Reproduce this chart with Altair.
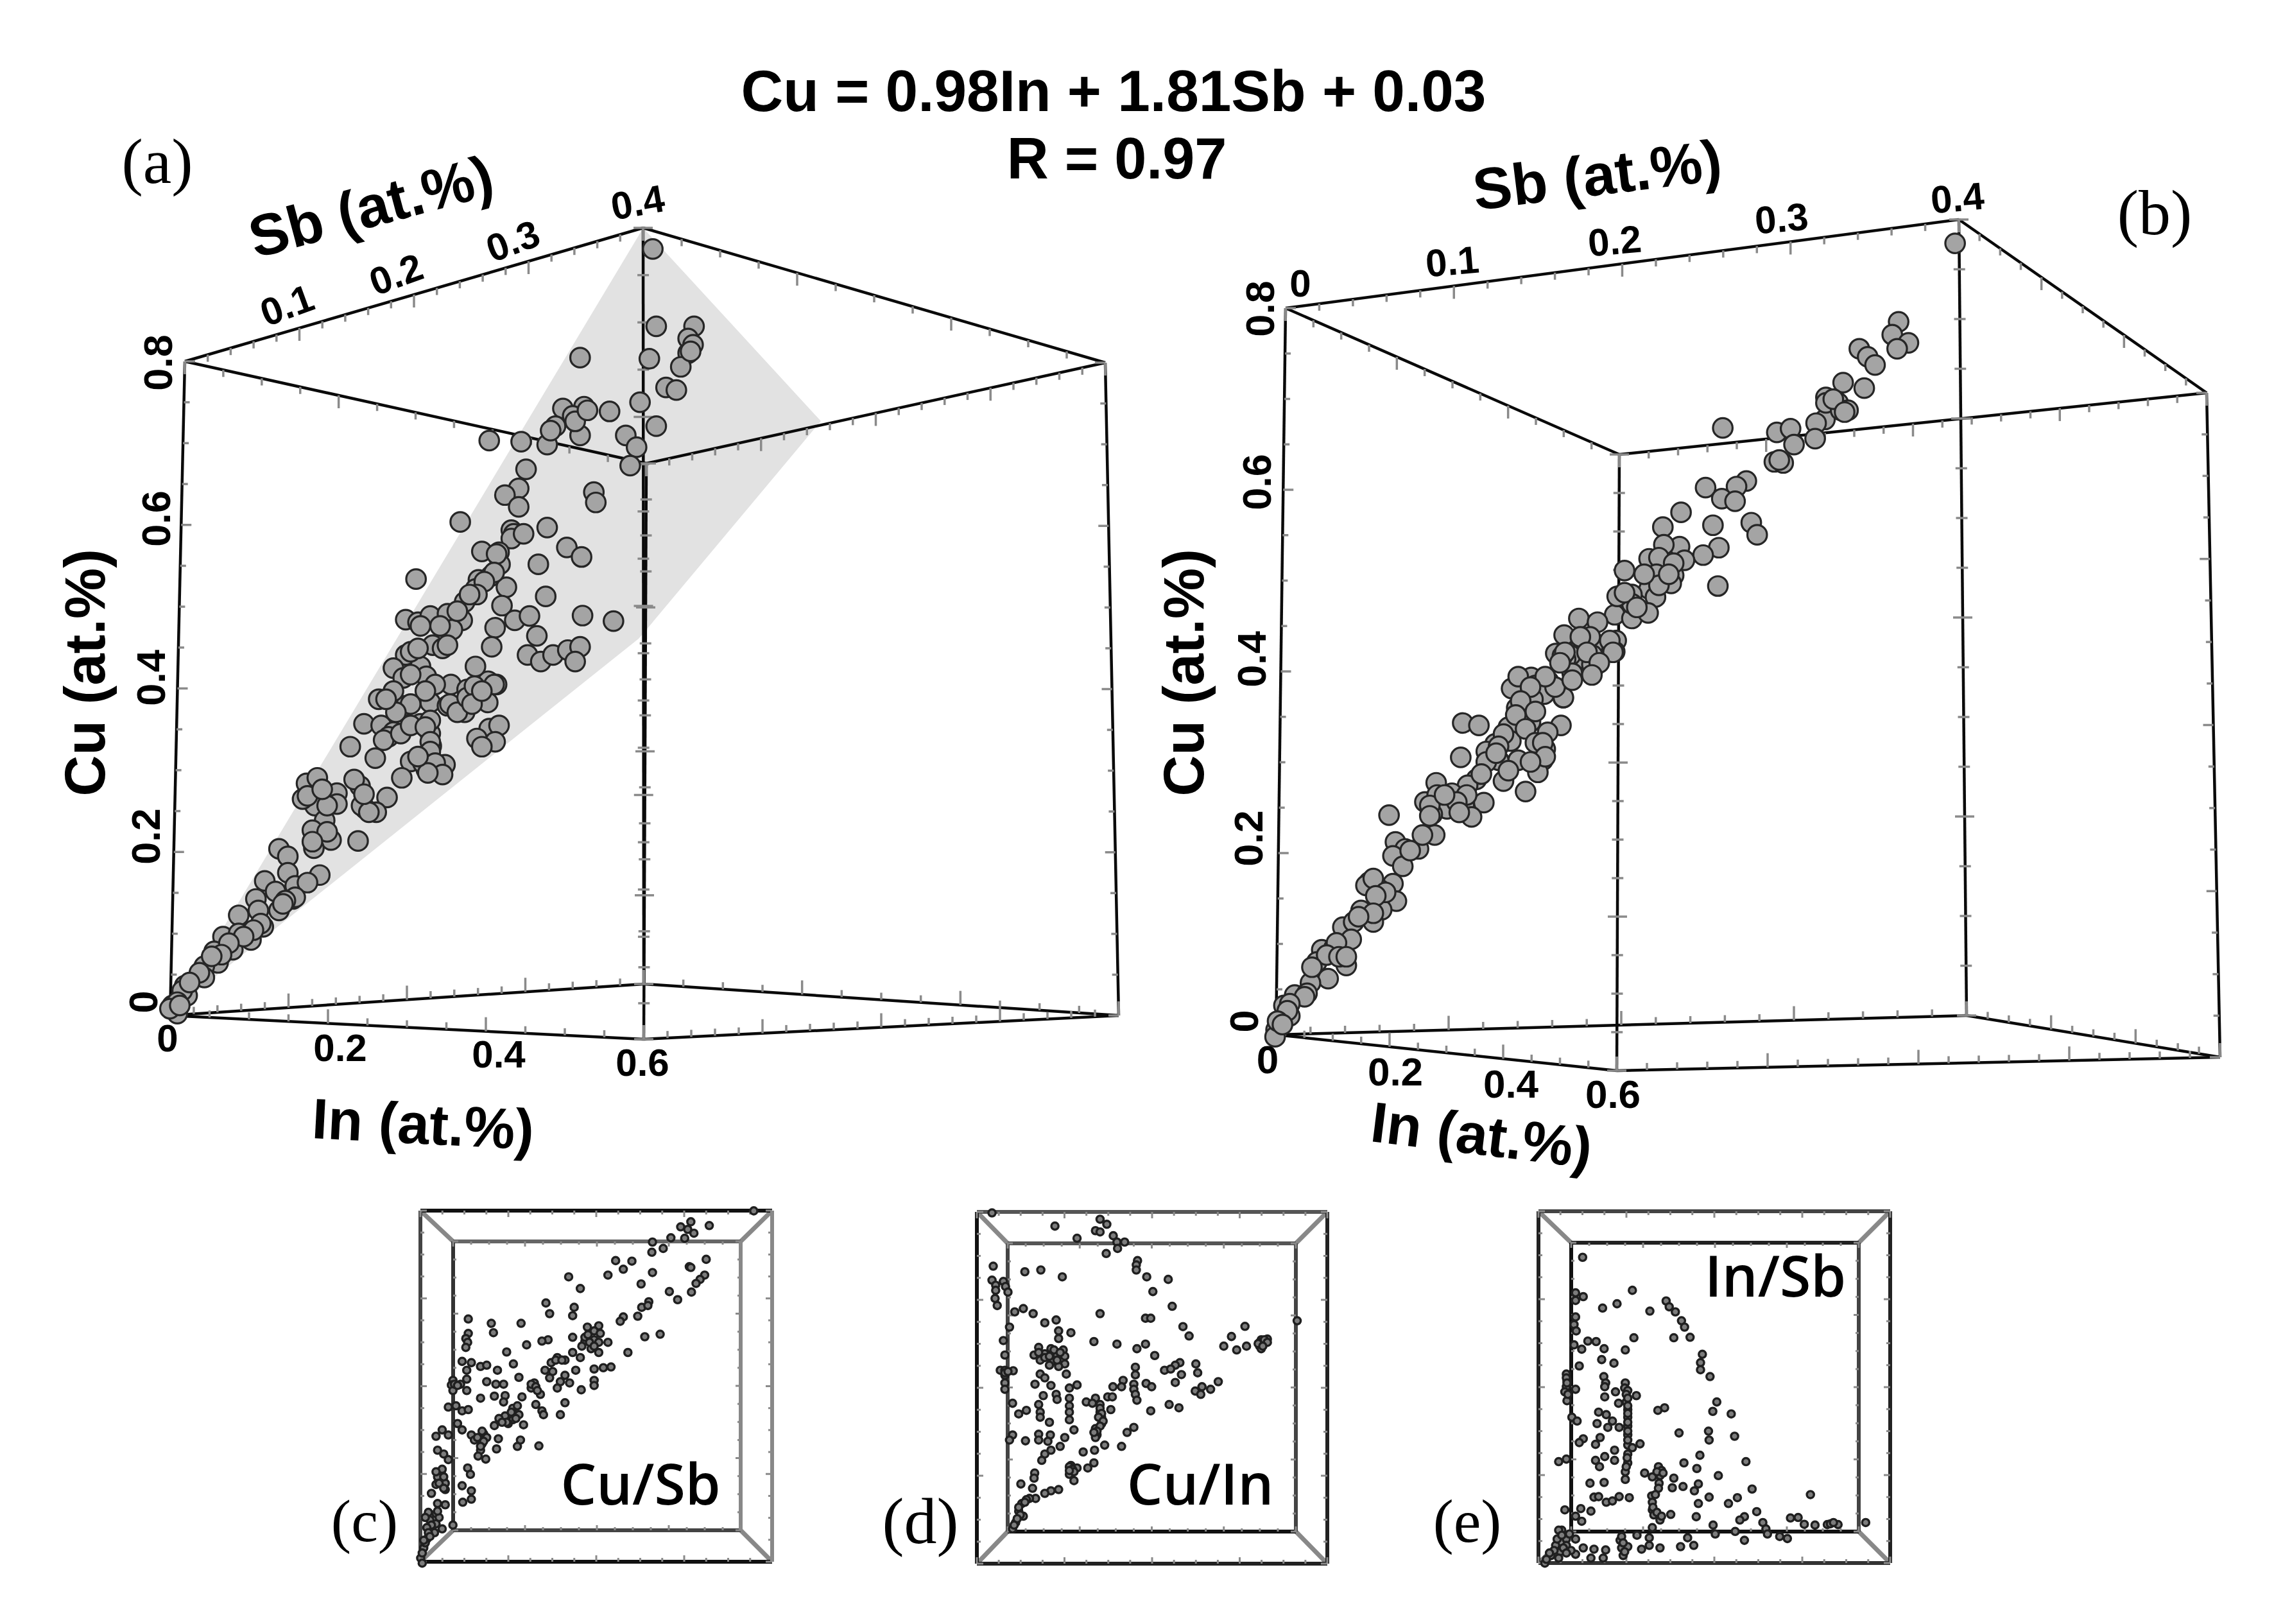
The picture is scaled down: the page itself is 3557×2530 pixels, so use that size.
import altair as alt
import pandas as pd

# ---- values, as (x, y) on the sheet, grouped by the crop they were read from
A1 = [(1133,362),(1140,572),(1217,572),(1205,605),(1215,622),(1205,645),(1190,682),(1126,660),(985,657),(1160,738),(1181,745),(1107,778),(950,795),(993,790),(1045,803),(970,815),(935,843),(1140,843),(985,868),(1078,868),(1100,900),(1087,950),(800,882),(865,885),(918,893),(875,960),(860,1012),(832,1030),(1013,1022),(1017,1050),(860,1062),(741,1103),(845,1125),(850,1135),(918,1118),(845,1148),(958,1172),(988,1198),(785,1183),(820,1185),(822,1218),(900,1218),(651,1258),(778,1260),(803,1250),(772,1285),(835,1280),(750,1320),(826,1330),(915,1305),(630,1368),(655,1375),(680,1358),(715,1352),(745,1370),(725,1395),(812,1390),(852,1370),(882,1358),(990,1357),(1053,1372),(897,1412),
      (815,1190),(810,1240),(790,1265),(775,1300),(760,1300),(735,1345),(700,1385),(660,1385),(870,1135),(975,830),(1000,800),(925,855),(1210,640)]
A2 = [(630,40),(685,10),(605,80),(660,75),(625,110),(672,105),(722,130),(755,145),(798,120),(815,130),(680,185),(715,195),(750,215),(797,185),(772,75),(575,175),(600,165),(630,195),(545,250),(580,255),(605,275),(660,250),(517,320),(568,355),(680,280),(682,318),(680,350),(640,365),(710,375),(672,390),(622,415),(800,265),(820,255),(775,295),(812,305),(785,320),(428,432),(450,415),(490,462),(537,440),(445,500),(420,480),(490,495),(592,475),(570,520),(548,510),(465,545),(440,575),(478,605),(443,630),(533,608),(372,632),(390,655),(390,705),(455,712),(343,730),(365,762),(405,745),(430,735),(325,785),(372,820),(400,785),(290,835),(330,820),(340,870),(258,900),(290,890),(315,910),(278,940),(240,945),(248,980),(220,990),(220,1025),(180,1050),(185,1080),(160,1125),(165,1135),(155,1110),(878,40),(905,60),(930,40),(960,25),(985,15),(975,60),(805,15),
      (640,30),(655,20),(705,20),(715,10),(640,100),(690,130),(670,150),(640,190),(610,215),(595,290),(585,300),(620,280),(640,255),(605,150),(590,175),(680,240),(670,260),(680,305),(680,335),(665,370),(690,370),(705,405),(675,400),(655,350),(720,190),(735,215),(755,170),(770,135),(765,190),(810,130),(785,150),(540,500),(555,520),(470,500),(430,470),(460,450),(525,420),(545,465),(470,580),(440,610),(405,780),(385,790),(380,800),(335,860),(320,880),(300,900),(270,920),(255,955),(235,960),(210,1010),(175,1065),(190,1040),(165,1100),(150,1120),(170,1110)]
B1 = [(1563,312),(1448,525),(1435,560),(1468,582),(1445,598),(1368,598),(1385,620),(1400,642),(1335,690),(1378,705),(1300,730),(1325,745),(1345,765),(1310,755),(1298,790),(1280,800),(1278,842),(1090,813),(1200,825),(1228,815),(1235,858),(1195,905),(1213,908),(1138,957),(1118,972),(1055,975),(1088,1005),(1115,1012),(1005,1042),(1148,1070),(1160,1103),(1070,1077),(968,1082),(1002,1135),(970,1130),(1082,1138),(1050,1158),(940,1168),(960,1165),(1012,1172),(890,1200),(990,1213),(1080,1242),(955,1210),(940,1250),(985,1235),(905,1265),(953,1272),(895,1290),(870,1320),(905,1330),(938,1315),(797,1330),(835,1340),(767,1375),(873,1390),(870,1420),(825,1410),(800,1410),(765,1430),(750,1425),(825,1455),(785,1480),(675,1490),(735,1500),(700,1510),(725,1535),(765,1545),(825,1470),
      (1300,745),(1330,765),(1315,735),(1338,770),(1205,900),(960,1240),(930,1210),(905,1290),(875,1270),(890,1260),(915,1300),(990,1180),(980,1210),(795,1440),(820,1380),(800,1380),(780,1430),(860,1390),(770,1440),(825,1430),(700,1490),(730,1520),(690,1520),(660,1520)]
B2 = [(855,40),(915,65),(958,30),(875,90),(765,100),(825,115),(800,125),(818,150),(857,160),(795,165),(762,190),(790,230),(852,240),(652,233),(685,240),(745,245),(825,260),(718,293),(750,285),(700,315),(648,332),(820,308),(765,340),(725,340),(815,340),(805,375),(680,395),(735,400),(780,430),(598,405),(662,412),(630,435),(575,460),(620,480),(695,462),(655,470),(590,495),(670,503),(502,498),(595,555),(515,575),(535,595),(510,615),(562,595),(530,645),(462,690),(510,695),(483,712),(455,700),(517,745),(445,772),(487,770),(470,805),(408,820),(430,805),(425,855),(365,885),(390,880),(355,920),(415,930),(378,968),(342,980),(310,1015),(335,1010),(288,1045),(300,1075),(272,1115),(270,1135),
      (860,30),(905,30),(930,60),(915,95),(850,60),(840,130),(875,110),(820,100),(790,130),(770,170),(800,200),(760,210),(780,250),(735,265),(725,300),(800,290),(815,290),(820,330),(790,345),(745,370),(700,345),(720,320),(690,380),(660,440),(640,460),(600,440),(585,470),(615,440),(585,500),(645,490),(570,555),(545,600),(470,680),(495,720),(475,730),(470,780),(440,790),(395,865),(375,900),(345,935),(400,905),(415,905),(330,1020),(300,1040),(295,1060),(275,1090),(285,1100)]
C1 = [(1410,92),(1205,135),(1265,150),(1172,155),(1195,165),(1215,180),(1140,198),(1185,200),(1080,215),(1115,240),(1078,255),(960,288),(1013,290),(985,322),(1255,283),(1200,312),(1205,315),(935,345),(1080,335),(807,352),(1250,345),(1235,362),(1222,378),(1043,380),(845,398),(1207,412),(1135,410),(1162,442),(733,455),(1068,450),(1045,472),(1065,465),(825,472),(745,497),(820,505),(1032,507),(985,510),(975,527),(480,518),(555,535),(652,535),(562,572),(868,550),(905,545),(890,565),(910,575),(1105,578),(1055,588),(480,575),(472,595),(478,610),(472,630),(820,590),(740,600),(720,605),(670,620),(860,605),(890,600),(935,610),(850,625),(880,635),(905,650),(605,648),(1000,650),(820,650),(795,680),(770,670),(750,690),(845,670),(460,685),(490,690),(520,705),(540,700),(575,720),(627,695),(475,720),(945,707),(920,710),(890,715),(830,720),(730,720),(755,725),(745,750),(795,740),(645,748),(475,755),(430,760),(425,778),(455,775),(540,765),(570,775),(595,775),(695,770),(810,770),(780,765),(890,760),(890,780),(770,790),(848,797),(430,800),(475,800),(685,790),(715,815),(520,830),(565,822),(600,820),(655,825),(595,845),(700,855),(625,870),(795,848),(415,865),(440,860),(460,880),(480,875),(720,880),(725,895),(780,895),(645,895),(600,900),(580,910),(625,915),(445,930),(565,938),(610,930),(660,935),(460,955),(395,955),(375,980),(415,975),(490,975),(530,970),(540,985),(578,990),(650,995),(500,995),(525,1010),(572,1030),(640,1020),(710,1018),(380,1035),(400,1050),(415,1072),(520,1035),(512,1058),(537,1070),(478,1105),(487,1130),(392,1120),(380,1140),(405,1165),(375,1170),(460,1175),(490,1195),(360,1205),(405,1190),(490,1228),(462,1240),(380,1245),(405,1250),(350,1280),(375,1285),(355,1310),(375,1325),(430,1330),(395,1345),(370,1360),(345,1385),(335,1420),(325,1460),(330,1480),
      (340,1300),(360,1330),(345,1340),(385,1300),(350,1360),(340,1400),(355,1375),(330,1440),(335,1390),(380,1275),(395,1110),(375,1120),(400,1140),(385,1165),(400,1185),(620,885),(640,860),(605,925),(590,925),(635,910),(685,775),(700,785),(705,800),(860,590),(875,610),(870,580),(905,610),(890,625),(765,680),(785,680),(435,775),(445,780),(510,985),(530,1000),(520,1020),(525,960)]
D1 = [(388,100),(740,125),(762,145),(593,152),(725,170),(740,175),(783,190),(665,200),(795,215),(820,215),(797,240),(760,260),(862,288),(858,305),(858,325),(392,310),(495,332),(547,325),(617,352),(892,352),(962,362),(388,365),(425,370),(400,385),(432,390),(440,412),(400,405),(398,437),(405,465),(912,410),(975,468),(490,477),(462,490),(522,497),(740,497),(888,515),(905,515),(597,522),(560,533),(1382,525),(1010,548),(1212,547),(445,550),(605,565),(645,572),(1030,585),(1168,587),(1285,597),(1265,600),(605,595),(425,603),(720,607),(795,617),(888,617),(860,635),(1143,625),(1217,625),(1185,640),(1260,625),(1275,610),(1265,635),(540,630),(580,635),(620,640),(525,660),(560,655),(600,660),(430,660),(918,662),(625,665),(545,680),(585,685),(625,695),(575,700),(605,705),(855,708),(1000,690),(1052,695),(985,700),(950,720),(970,715),(855,738),(1058,730),(415,720),(457,722),(430,740),(630,735),(545,735),(560,750),(1005,737),(1125,765),(815,760),(985,768),(430,770),(528,775),(580,780),(665,778),(640,790),(890,772),(908,785),(782,785),(810,785),(850,775),(850,795),(1072,785),(1100,795),(1050,802),(1068,815),(430,795),(555,820),(597,815),(600,835),(855,815),(860,838),(640,830),(725,830),(765,825),(780,825),(695,845),(715,850),(740,855),(455,850),(540,855),(965,855),(997,868),(500,878),(475,892),(640,860),(640,885),(545,885),(775,875),(905,880),(740,885),(745,905),(545,905),(640,915),(575,925),(745,930),(725,950),(850,945),(828,965),(655,955),(455,975),(540,972),(578,975),(730,975),(445,995),(497,998),(540,995),(570,1000),(625,985),(725,985),(755,1015),(810,1020),(610,1020),(580,1035),(722,1035),(685,1042),(560,1050),(550,1075),(720,1085),(700,1105),(645,1095),(665,1105),(640,1130),(655,1155),(527,1125),(525,1145),(482,1168),(520,1185),(605,1190),(580,1195),(560,1205),(530,1225),(510,1225),(485,1245),(475,1275),(490,1295),(465,1320),(455,1345),
      (740,870),(745,890),(735,905),(750,920),(740,940),(730,960),(720,965),(1260,610),(1275,600),(1285,610),(1255,615),(1270,625),(590,640),(610,650),(560,670),(575,665),(600,680),(540,650),(640,1100),(650,1110),(655,1120),(640,1115),(500,1230),(495,1240),(475,1260),(480,1290),(470,1305),(460,1330),(430,720),(430,730),(440,725)]
E1 = [(493,275),(655,405),(470,415),(495,430),(470,445),(765,447),(605,458),(558,475),(775,470),(712,487),(795,490),(470,510),(815,525),(465,540),(825,550),(472,565),(660,592),(790,592),(843,590),(510,605),(537,607),(465,620),(563,635),(490,637),(632,640),(883,657),(555,678),(595,692),(877,690),(482,703),(877,718),(908,745),(440,735),(442,760),(562,745),(568,770),(632,770),(440,785),(470,795),(435,805),(565,785),(600,805),(630,790),(668,820),(565,825),(442,840),(610,850),(635,845),(930,845),(760,868),(738,878),(917,882),(977,892),(640,875),(545,885),(570,895),(458,905),(475,920),(590,920),(640,905),(540,930),(575,945),(612,945),(640,940),(807,967),(903,960),(988,980),(905,995),(640,975),(550,985),(495,990),(482,1005),(535,1012),(680,1010),(640,1015),(655,1025),(597,1035),(640,1050),(875,1055),(565,1060),(440,1070),(415,1080),(535,1075),(597,1075),(640,1085),(823,1085),(1025,1080),(548,1100),(865,1107),(632,1120),(742,1110),(695,1125),(935,1135),(720,1140),(745,1135),(790,1145),(632,1150),(517,1165),(563,1162),(742,1165),(870,1168),(785,1183),(820,1178),(857,1195),(740,1185),(1045,1188),(1235,1210),(530,1220),(545,1218),(570,1240),(590,1235),(612,1218),(645,1222),(905,1220),(997,1222),(718,1215),(720,1240),(870,1245),(968,1245),(435,1270),(487,1265),(520,1275),(720,1270),(780,1288),(863,1297),(1060,1277),(725,1290),(470,1295),(1020,1297),(1170,1302),(1195,1300),(490,1315),(745,1310),(1005,1310),(918,1330),(1215,1327),(1250,1330),(1080,1320),(1290,1328),(1325,1328),(1415,1320),(720,1340),(425,1350),(990,1355),(1090,1345),(925,1365),(670,1370),(1095,1365),(835,1380),(1135,1375),(1160,1383),(440,1385),(470,1385),(615,1390),(710,1380),(1020,1390),(405,1410),(440,1410),(855,1410),(812,1415),(495,1420),(530,1425),(568,1428),(620,1420),(640,1415),(745,1420),(685,1425),(710,1410),(420,1435),(470,1445),(520,1460),(560,1460),(625,1450),(390,1450),(370,1480),(415,1460),
      (740,1100),(750,1115),(735,1120),(755,1125),(415,1350),(410,1385),(425,1370),(450,1365),(400,1430),(385,1440),(430,1420),(455,1430),(440,1440),(375,1465),(620,1375),(625,1400),(630,1435),(640,800),(635,815),(640,830),(640,860),(640,890),(640,925),(640,960),(640,995),(638,1065),(635,1100),(730,1210),(722,1260),(735,1280),(750,1295),(440,750),(442,770),(445,815),(1300,1325),(1310,1320)]

PLANE_X = [272, 995, 1002, 1279]
PLANE_TOP = [1572, 367, 355, 656]
PLANE_BOTTOM = [1572, 995, 987, 656]

Pa = dict(A=(288,563), AP=(1002,355), C=(1007,722), R=(1722,565), BR=(1743,1582), O=(265,1582), BF=(1003,1619), BB=(1003,1533))
Pb = dict(A=(2003,480), AP=(3052,342), C=(2523,708), R=(3438,612), BR=(3459,1647), O=(1988,1612), BF=(2519,1668), BB=(3064,1582))

SMALL = [
    # left, right, top, bottom of the outer and inner frames, then colours: outer T,B,L,R inner T,B,L,R
    dict(o=(655,1203,1886,2433), i=(706,1154,1934,2384), c=("#111","#111","#444","#888","#666","#444","#333","#888")),
    dict(o=(1522,2068,1888,2436), i=(1570,2019,1937,2386), c=("#555","#222","#111","#222","#555","#111","#444","#444")),
    dict(o=(2397,2945,1887,2435), i=(2448,2896,1936,2386), c=("#444","#333","#222","#222","#222","#111","#111","#444")),
]

BOLD_LABELS = [
    ("Cu = 0.98In + 1.81Sb + 0.03",1735,146,91,0), ("R = 0.97",1740,251,90,0),
    ("0.8",249,565,63,270),("0.6",246,808,63,270),("0.4",238,1056,63,270),("0.2",230,1303,63,270),("0",226,1561,63,270),
    ("0",261,1620,60,0),("0.2",530,1635,60,0),("0.4",777,1645,60,0),("0.6",1001,1658,60,0),
    ("0.1",448,478,60,340),("0.2",618,430,60,340),("0.3",800,378,60,340),("0.4",994,318,60,350),
    ("In (at.%)",659,1755,89,3),("Sb (at.%)",579,326,91,345),("Cu (at.%)",136,1048,89,270),
    ("0.8",1966,481,63,270),("0.6",1961,751,63,270),("0.4",1953,1027,63,270),("0.2",1948,1306,63,270),("0",1941,1591,63,270),
    ("0",2026,444,60,0),("0.1",2263,410,60,355),("0.2",2516,378,60,355),("0.3",2776,343,60,355),("0.4",3050,311,60,355),
    ("0",1975,1653,62,0),("0.2",2174,1672,62,0),("0.4",2354,1691,62,0),("0.6",2513,1707,62,0),
    ("In (at.%)",2308,1772,89,7),("Sb (at.%)",2489,277,91,353),("Cu (at.%)",1848,1048,89,270),
]
SERIF_LABELS = [("(a)",245,255,100),("(b)",3357,335,100),("(c)",568,2373,94),("(d)",1434,2373,102),("(e)",2286,2373,96)]
SANS_LABELS = [("Cu/Sb",998,2318,88),("Cu/In",1870,2318,88),("In/Sb",2766,1994,88)]

def sheet(pts, ox, oy, fx, fy):
    return [(ox + x / fx, oy + y / fy) for x, y in pts]

pts_main = (sheet(A1, 150, 180, 1.3067, 1.742) + sheet(A2, 150, 1000, 1.3067, 1.96)
            + sheet(B1, 1850, 200, 1.3067, 1.742) + sheet(B2, 1780, 1000, 1.3067, 1.845))
pts_small = (sheet(C1, 500, 1850, 2.0907, 2.529) + sheet(D1, 1360, 1850, 2.0907, 2.529)
             + sheet(E1, 2230, 1850, 2.0907, 2.529))

lines, ticks = [], []
def line(a, b, c="#0a0a0a", w=4.5):
    lines.append(dict(x=a[0], y=a[1], x2=b[0], y2=b[1], c=c, w=w))

def tick_edge(a, b, nmaj, nsub, d, lmaj, lmin, both=False, w=3.5):
    n = nmaj * nsub
    for i in range(n + 1):
        t = i / n
        L = lmaj if i % nsub == 0 else lmin
        x = a[0] + t * (b[0] - a[0]); y = a[1] + t * (b[1] - a[1])
        s = -1 if both else 0
        ticks.append(dict(x=x + s * d[0] * L, y=y + s * d[1] * L, x2=x + d[0] * L, y2=y + d[1] * L, c="#8a8a8a", w=w))

for P in (Pa, Pb):
    for a, b in [("A","AP"),("AP","R"),("A","C"),("C","R"),("A","O"),("C","BF"),("AP","BB"),("R","BR"),("O","BF"),("O","BB"),("BB","BR"),("BF","BR")]:
        line(P[a], P[b])
    down, up, right, left = (0,1), (0,-1), (1,0), (-1,0)
    tick_edge(P["A"], P["AP"], 4, 5, down, 20, 11)
    tick_edge(P["C"], P["R"], 4, 5, down, 20, 11)
    tick_edge(P["A"], P["C"], 3, 4, down, 20, 11)
    tick_edge(P["AP"], P["R"], 3, 4, down, 20, 11)
    tick_edge(P["A"], P["O"], 4, 4, right, 16, 9)
    tick_edge(P["R"], P["BR"], 4, 4, left, 16, 9)
    tick_edge(P["C"], P["BF"], 4, 4, right, 15, 9, both=True)
    tick_edge(P["AP"], P["BB"], 4, 4, right, 15, 9, both=True)
    tick_edge(P["O"], P["BF"], 3, 4, up, 22, 11)
    tick_edge(P["BB"], P["BR"], 3, 4, up, 22, 11)
    tick_edge(P["O"], P["BB"], 4, 5, up, 22, 11)
    tick_edge(P["BF"], P["BR"], 4, 5, up, 22, 11)

for s in SMALL:
    l, r, t, b = s["o"]; il, ir, it, ib = s["i"]; c = s["c"]
    line((l,t),(il,it),"#888",7); line((r,t),(ir,it),"#888",7); line((l,b),(il,ib),"#888",7); line((r,b),(ir,ib),"#888",7)
    line((l,t),(r,t),c[0],6); line((l,b),(r,b),c[1],6); line((l,t),(l,b),c[2],6); line((r,t),(r,b),c[3],6)
    line((il,it),(ir,it),c[4],6); line((il,ib),(ir,ib),c[5],6); line((il,it),(il,ib),c[6],6); line((ir,it),(ir,ib),c[7],6)
    tick_edge((l,t),(r,t),4,4,(0,1),10,6,w=3); tick_edge((l,b),(r,b),4,4,(0,-1),10,6,w=3)
    tick_edge((l,t),(l,b),4,4,(1,0),10,6,w=3); tick_edge((r,t),(r,b),4,4,(-1,0),10,6,w=3)
    tick_edge((il,it),(ir,it),4,4,(0,1),8,5,w=3); tick_edge((il,ib),(ir,ib),4,4,(0,-1),8,5,w=3)
    tick_edge((il,it),(il,ib),4,4,(1,0),8,5,w=3); tick_edge((ir,it),(ir,ib),4,4,(-1,0),8,5,w=3)

W, H = 3541, 2514
X = alt.Scale(domain=[8, 8 + W], nice=False, zero=False)
Y = alt.Scale(domain=[8 + H, 8], nice=False, zero=False)
xe = alt.X("x:Q", scale=X, axis=None)
ye = alt.Y("y:Q", scale=Y, axis=None)

def rules(rows):
    return alt.Chart(pd.DataFrame(rows)).mark_rule().encode(
        x=xe, y=ye, x2="x2:Q", y2="y2:Q",
        color=alt.Color("c:N", scale=None), strokeWidth=alt.StrokeWidth("w:Q", scale=None))

plane = alt.Chart(pd.DataFrame({"x": PLANE_X, "y": PLANE_TOP, "y2": PLANE_BOTTOM})).mark_area(
    color="#e2e2e2", interpolate="linear", opacity=1).encode(x=xe, y=ye, y2="y2:Q")

dots = alt.Chart(pd.DataFrame(pts_main, columns=["x", "y"])).mark_point(
    filled=False, shape="circle", size=930, fill="#a4a4a4", fillOpacity=1, stroke="#262626", strokeWidth=3.2, opacity=1
).encode(x=xe, y=ye)
small = alt.Chart(pd.DataFrame(pts_small, columns=["x", "y"])).mark_point(
    filled=False, shape="circle", size=125, fill="#7c7c7c", fillOpacity=1, stroke="#1f1f1f", strokeWidth=3.4, opacity=1
).encode(x=xe, y=ye)

def texts(rows, font, weight):
    df = pd.DataFrame(rows)
    if "a" not in df: df["a"] = 0
    return alt.Chart(df).mark_text(font=font, fontWeight=weight, color="#000", align="center", baseline="middle").encode(
        x=xe, y=ye, text="t:N", size=alt.Size("s:Q", scale=None), angle=alt.Angle("a:Q", scale=None))

bold = texts([dict(t=t, x=x, y=y, s=s, a=a) for t, x, y, s, a in BOLD_LABELS], "Liberation Sans", "bold")
serif = texts([dict(t=t, x=x, y=y, s=s) for t, x, y, s in SERIF_LABELS], "Liberation Serif", "normal")
sans = texts([dict(t=t, x=x, y=y, s=s) for t, x, y, s in SANS_LABELS], "Open Sans", 600)

chart = alt.layer(plane, rules(lines), rules(ticks), dots, small, bold, serif, sans).properties(
    width=W, height=H, padding=0, autosize=alt.AutoSizeParams(type="none"), background="white"
).configure_view(stroke=None)
chart.save("out.html", embed_options={"renderer": "svg", "actions": False})
